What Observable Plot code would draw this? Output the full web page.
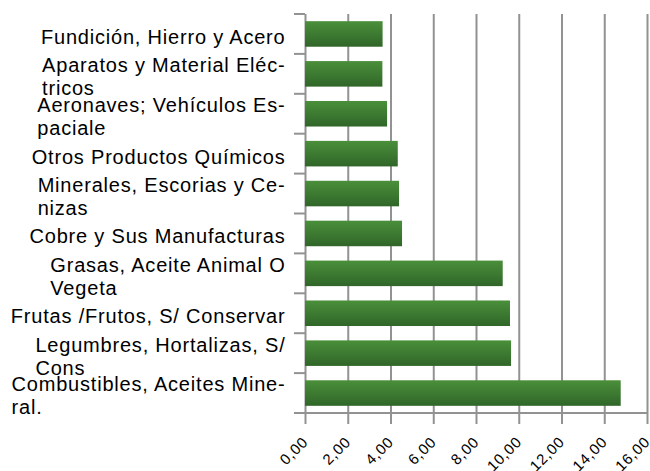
<!DOCTYPE html>
<html><head><meta charset="utf-8">
<script src="https://cdn.jsdelivr.net/npm/d3@7"></script>
<script src="https://cdn.jsdelivr.net/npm/@observablehq/plot@0.6"></script>
<style>
body{margin:0;background:#fff}
#chart svg{display:block}
#chart svg text{letter-spacing:0.8px}
</style>
</head><body><div id="chart"></div>
<script>
const categories = [
  "Fundición, Hierro y Acero",
  "Aparatos y Material Eléctricos",
  "Aeronaves; Vehículos Espaciale",
  "Otros Productos Químicos",
  "Minerales, Escorias y Cenizas",
  "Cobre y Sus Manufacturas",
  "Grasas, Aceite Animal O Vegeta",
  "Frutas /Frutos, S/ Conservar",
  "Legumbres, Hortalizas, S/ Cons",
  "Combustibles, Aceites Mineral."
];
const labels = [
  "Fundición, Hierro y Acero",
  "Aparatos y Material Eléc-\ntricos",
  "Aeronaves; Vehículos Es-\npaciale",
  "Otros Productos Químicos",
  "Minerales, Escorias y Ce-\nnizas",
  "Cobre y Sus Manufacturas",
  "Grasas, Aceite Animal O\nVegeta",
  "Frutas /Frutos, S/ Conservar",
  "Legumbres, Hortalizas, S/\nCons",
  "Combustibles, Aceites Mine-\nral."
];
const values = [3.63, 3.62, 3.84, 4.34, 4.40, 4.54, 9.25, 9.59, 9.64, 14.77];
const xTicks = [0, 2, 4, 6, 8, 10, 12, 14, 16];
const xTickLabels = ["0,00", "2,00", "4,00", "6,00", "8,00", "10,00", "12,00", "14,00", "16,00"];

const data = categories.map((c, i) => ({category: c, label: labels[i], value: values[i]}));
const GRID = "#929292";
const TICK = 11;

const plot = Plot.plot({
  width: 650, height: 471,
  marginLeft: 305, marginRight: 3, marginTop: 14, marginBottom: 58,
  style: {fontFamily: "'Liberation Sans', Arial, sans-serif", background: "#fff", color: "#000", overflow: "visible"},
  x: {domain: [0, 16], axis: null},
  y: {domain: categories, paddingInner: 0.36, paddingOuter: 0.18, round: false, axis: null},
  marks: [
    Plot.ruleX(xTicks, {stroke: GRID, strokeWidth: 2}),
    Plot.barX(data, {x: "value", y: "category", fill: "url(#barGrad)"}),
    Plot.axisX(xTicks, {
      label: null,
      tickSize: TICK, tickPadding: 15, tickRotate: -45,
      tickFormat: d => xTickLabels[xTicks.indexOf(d)],
      stroke: GRID, strokeWidth: 2, fill: "#000", fontSize: 15
    }),
    Plot.text(data, {
      y: "category", text: "label", frameAnchor: "left", textAnchor: "end",
      dx: -20, dy: 2, lineHeight: 1.15, fontSize: 20, fill: "#000"
    })
  ]
});
document.getElementById("chart").append(plot);

// gradient for the bars
const svg = d3.select(plot);
const defs = svg.insert("defs", ":first-child");
const grad = defs.append("linearGradient").attr("id", "barGrad")
  .attr("x1", 0).attr("y1", 0).attr("x2", 0).attr("y2", 1);
grad.append("stop").attr("offset", "0%").attr("stop-color", "#4a8f3a");
grad.append("stop").attr("offset", "100%").attr("stop-color", "#306629");

// category axis: ticks at band boundaries, from library scales
const xs = plot.scale("x");
const ys = plot.scale("y");
const n = categories.length;
const r0 = Math.min(...ys.range), r1 = Math.max(...ys.range);
const step = (r1 - r0) / (n - ys.paddingInner + 2 * ys.paddingOuter);
const bw = ys.bandwidth ?? step * (1 - ys.paddingInner);
const x0 = xs.apply(0), x1 = xs.apply(16);
const first = ys.apply(categories[0]) - (step - bw) / 2;
const g = svg.append("g").attr("stroke", GRID).attr("stroke-width", 2);
for (let i = 0; i < n; i++) {
  const y = first + i * step;
  g.append("line").attr("x1", x0 - TICK).attr("x2", x0).attr("y1", y).attr("y2", y);
}
g.append("line").attr("x1", x0 - TICK).attr("x2", x1).attr("y1", r1).attr("y2", r1);

// left-align wrapped category labels as a block
svg.selectAll('g[aria-label="text"] text').each(function() {
  const tspans = Array.from(this.querySelectorAll("tspan"));
  if (tspans.length > 1) {
    const w = Math.max(...tspans.map(t => t.getComputedTextLength()));
    this.setAttribute("text-anchor", "start");
    tspans.forEach(t => t.setAttribute("x", -w));
  }
});
</script>
</body></html>
